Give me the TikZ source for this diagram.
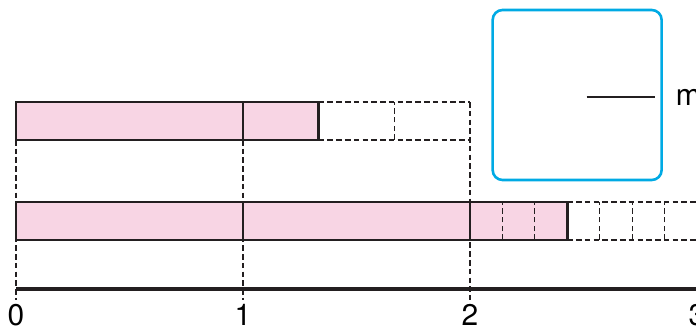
\documentclass[tikz,border=0pt]{standalone}
\usepackage{fontspec}
\setmainfont{TeX Gyre Heros}
\usetikzlibrary{positioning}
\definecolor{barpink}{RGB}{248,213,228}
\definecolor{ink}{RGB}{35,31,32}
\definecolor{sky}{RGB}{0,170,228}
\tikzset{
  guide/.style={ink,line width=0.6pt,dash pattern=on 2.8pt off 1.6pt},
  barline/.style={ink,line width=1.4pt},
  num/.style={anchor=base,inner sep=0pt,font=\fontsize{15}{18}\selectfont},
}

\begin{document}
\begin{tikzpicture}[x=4cm,y=4cm]
    \useasboundingbox (-0.0705,-0.163) rectangle (2.9956,1.2775);
    \clip (-0.0705,-0.163) rectangle (2.9956,1.2775);
    % guides down to the number line
    \draw[guide] (0,0.661)--(0,-0.044);
    \draw[guide] (1,0.661)--(1,-0.044);
    \draw[guide] (2,0.828)--(2,-0.044);
    % top bar, 4/3 of a unit
    \draw[guide] (4/3,0.661)--(2,0.661) (4/3,0.828)--(2,0.828);
    \draw[guide] (5/3,0.661)--(5/3,0.828);
    \fill[barpink] (0,0.661) rectangle (4/3,0.828);
    \draw[ink,line width=0.6pt] (1,0.661)--(1,0.828);
    \draw[barline] (0,0.661) rectangle (4/3,0.828);
    % bottom bar, 2 and 3/7
    \draw[guide] (17/7,0.22)--(3,0.22) (17/7,0.388)--(3,0.388);
    \fill[barpink] (0,0.22) rectangle (17/7,0.388);
    \foreach \k in {1,2,4,5,6,7}
      \draw[guide] (2+\k/7,0.22)--(2+\k/7,0.388);
    \foreach \x in {1,2}
      \draw[ink,line width=0.6pt] (\x,0.22)--(\x,0.388);
    \draw[barline] (0,0.22) rectangle (17/7,0.388);
    % number line
    \draw[ink,line width=2.2pt] (0,0.005)--(3.1,0.005);
    \foreach \x in {0,1,2,3}
      \node[num] (lab\x) at (\x,-0.157){\x};
    % answer box
    \node[draw=sky,line width=1.3pt,rounded corners=5pt,minimum width=2.978cm,
      minimum height=2.996cm,inner sep=0pt] (answer) at (2.472,0.859){};
    \draw[ink,line width=1pt] (2.514,0.850)--(2.816,0.850);
    \node[anchor=base west,inner sep=0pt,font=\fontsize{15}{18}\selectfont] (unit) at (2.905,0.812){m};
  \end{tikzpicture}
\end{document}
